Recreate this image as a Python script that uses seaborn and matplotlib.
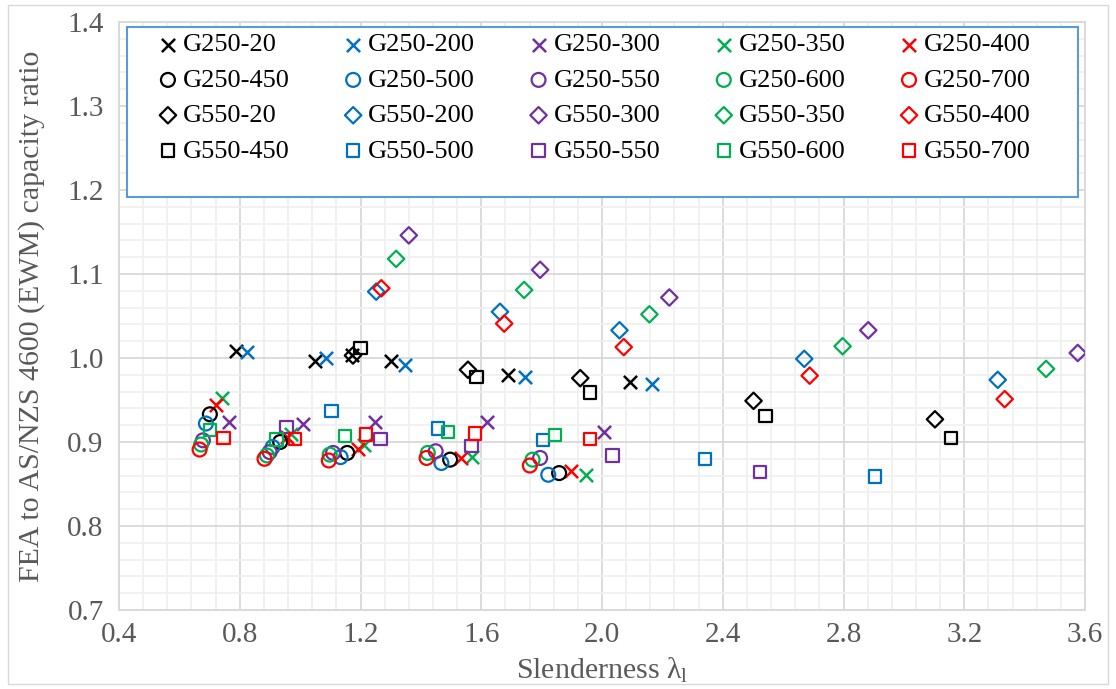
import matplotlib
matplotlib.use("Agg")
import matplotlib.pyplot as plt
import seaborn as sns
import pandas as pd
from matplotlib.ticker import MultipleLocator, FormatStrFormatter
from matplotlib.patches import Rectangle

# ---------------- data ----------------
x_G250_20 = [0.788, 1.048, 1.172, 1.300, 1.687, 2.093]
y_G250_20 = [1.008, 0.996, 1.003, 0.996, 0.980, 0.971]
x_G250_200 = [0.824, 1.086, 1.346, 1.744, 2.165]
y_G250_200 = [1.007, 1.000, 0.992, 0.977, 0.969]
x_G250_300 = [0.766, 1.010, 1.248, 1.618, 2.008]
y_G250_300 = [0.924, 0.922, 0.924, 0.924, 0.912]
x_G250_350 = [0.740, 0.971, 1.211, 1.571, 1.947]
y_G250_350 = [0.952, 0.910, 0.896, 0.882, 0.861]
x_G250_400 = [0.721, 0.955, 1.191, 1.532, 1.897]
y_G250_400 = [0.944, 0.906, 0.892, 0.881, 0.865]
x_G250_450 = [0.701, 0.934, 1.156, 1.497, 1.858]
y_G250_450 = [0.933, 0.900, 0.887, 0.879, 0.863]
x_G250_500 = [0.688, 0.909, 1.134, 1.468, 1.822]
y_G250_500 = [0.922, 0.894, 0.882, 0.875, 0.861]
x_G250_550 = [0.678, 0.899, 1.109, 1.449, 1.795]
y_G250_550 = [0.902, 0.888, 0.887, 0.889, 0.881]
x_G250_600 = [0.672, 0.890, 1.098, 1.423, 1.770]
y_G250_600 = [0.897, 0.884, 0.885, 0.887, 0.879]
x_G250_700 = [0.667, 0.882, 1.095, 1.419, 1.761]
y_G250_700 = [0.891, 0.880, 0.878, 0.881, 0.872]

x_G550_20 = [1.175, 1.556, 1.928, 2.502, 3.103]
y_G550_20 = [1.003, 0.986, 0.976, 0.949, 0.927]
x_G550_200 = [1.252, 1.662, 2.058, 2.670, 3.311]
y_G550_200 = [1.079, 1.055, 1.033, 0.999, 0.974]
x_G550_300 = [1.360, 1.795, 2.223, 2.882, 3.576]
y_G550_300 = [1.146, 1.105, 1.072, 1.033, 1.006]
x_G550_350 = [1.318, 1.742, 2.157, 2.797, 3.471]
y_G550_350 = [1.118, 1.081, 1.052, 1.014, 0.987]
x_G550_400 = [1.269, 1.676, 2.072, 2.688, 3.334]
y_G550_400 = [1.083, 1.041, 1.013, 0.979, 0.951]
x_G550_450 = [1.200, 1.584, 1.961, 2.542, 3.155]
y_G550_450 = [1.012, 0.977, 0.959, 0.931, 0.905]
x_G550_500 = [1.104, 1.457, 1.805, 2.340, 2.904]
y_G550_500 = [0.937, 0.916, 0.902, 0.880, 0.859]
x_G550_550 = [0.955, 1.266, 1.568, 2.035, 2.524]
y_G550_550 = [0.918, 0.904, 0.895, 0.884, 0.864]
x_G550_600 = [0.702, 0.922, 1.148, 1.490, 1.845]
y_G550_600 = [0.914, 0.903, 0.907, 0.912, 0.908]
x_G550_700 = [0.746, 0.984, 1.219, 1.579, 1.961]
y_G550_700 = [0.905, 0.904, 0.909, 0.910, 0.904]

series_names = ["G250-20", "G250-200", "G250-300", "G250-350", "G250-400",
                "G250-450", "G250-500", "G250-550", "G250-600", "G250-700",
                "G550-20", "G550-200", "G550-300", "G550-350", "G550-400",
                "G550-450", "G550-500", "G550-550", "G550-600", "G550-700"]
series_x = [x_G250_20, x_G250_200, x_G250_300, x_G250_350, x_G250_400,
            x_G250_450, x_G250_500, x_G250_550, x_G250_600, x_G250_700,
            x_G550_20, x_G550_200, x_G550_300, x_G550_350, x_G550_400,
            x_G550_450, x_G550_500, x_G550_550, x_G550_600, x_G550_700]
series_y = [y_G250_20, y_G250_200, y_G250_300, y_G250_350, y_G250_400,
            y_G250_450, y_G250_500, y_G250_550, y_G250_600, y_G250_700,
            y_G550_20, y_G550_200, y_G550_300, y_G550_350, y_G550_400,
            y_G550_450, y_G550_500, y_G550_550, y_G550_600, y_G550_700]

x_ticks = [0.4, 0.8, 1.2, 1.6, 2.0, 2.4, 2.8, 3.2, 3.6]
y_ticks = [0.7, 0.8, 0.9, 1.0, 1.1, 1.2, 1.3, 1.4]

colors = ["#000000", "#0070C0", "#7030A0", "#00B050", "#FF0000"]
group_markers = ["x", "o", "D", "s"]
group_sizes = [90, 100, 70, 78]

# ---------------- style ----------------
sns.set_theme(style="white")
plt.rcParams['font.family'] = ['Liberation Serif', 'DejaVu Serif']
plt.rcParams['mathtext.fontset'] = 'custom'
plt.rcParams['mathtext.rm'] = 'Liberation Serif'
plt.rcParams['mathtext.it'] = 'Liberation Serif:italic'

text_col = "#595959"
fig = plt.figure(figsize=(11.16, 6.89), dpi=100)
ax = fig.add_axes([119 / 1116, 1 - 610 / 689, 966 / 1116, 588 / 689])

for i, name in enumerate(series_names):
    grp = i // 5
    col = colors[i % 5]
    df = pd.DataFrame({"x": series_x[i], "y": series_y[i]})
    m = group_markers[grp]
    if m == "x":
        sns.scatterplot(data=df, x="x", y="y", ax=ax, marker=m, color=col,
                        edgecolor=None, s=group_sizes[grp], linewidth=1.8,
                        label=name, zorder=4)
    else:
        sns.scatterplot(data=df, x="x", y="y", ax=ax, marker=m, color=col,
                        facecolor="none", edgecolor=col, s=group_sizes[grp],
                        linewidth=1.6, label=name, zorder=4)

ax.set_xlim(0.4, 3.6)
ax.set_ylim(0.7, 1.4)
ax.set_xticks(x_ticks)
ax.set_yticks(y_ticks)
ax.xaxis.set_major_formatter(FormatStrFormatter("%.1f"))
ax.yaxis.set_major_formatter(FormatStrFormatter("%.1f"))
ax.xaxis.set_minor_locator(MultipleLocator(0.08))
ax.yaxis.set_minor_locator(MultipleLocator(0.02))
ax.set_axisbelow(True)
ax.grid(which="minor", color="#f0f0f0", linewidth=1.3)
ax.grid(which="major", color="#d9d9d9", linewidth=1.3)
ax.tick_params(which="both", length=0)
ax.tick_params(axis="both", labelsize=21, labelcolor=text_col)
ax.tick_params(axis="x", pad=9)
ax.tick_params(axis="y", pad=11)
for sp in ax.spines.values():
    sp.set_color("#d9d9d9")
    sp.set_linewidth(1.3)

ax.set_xlabel(r"Slenderness λ$_\mathrm{l}$", fontsize=21.5, color=text_col)
ax.set_ylabel("FEA to AS/NZS 4600 (EWM) capacity ratio", fontsize=21.5, color=text_col)
ax.xaxis.set_label_coords(0.5, -0.078)
ax.yaxis.set_label_coords(-0.0766, 0.5)

# legend box
ax.add_patch(Rectangle((8 / 966, 1 - 175 / 588), 951 / 966, 170 / 588,
                       transform=ax.transAxes, facecolor="white",
                       edgecolor="#5B9BD5", linewidth=1.5, zorder=3))
handles, labels = ax.get_legend_handles_labels()
order = [r * 5 + c for c in range(5) for r in range(4)]
leg = ax.legend([handles[k] for k in order], [labels[k] for k in order],
                ncol=5, loc="upper left", bbox_to_anchor=(41 / 966, 1 - 11 / 588),
                frameon=False, fontsize=19, handletextpad=0.27,
                handlelength=0.6, labelspacing=0.45, borderaxespad=0, borderpad=0,
                columnspacing=2.1, scatterpoints=1)
for t in leg.get_texts():
    t.set_color("#000000")
leg.set_zorder(5)

# outer chart border
fig.patches.append(Rectangle((8 / 1116, 5 / 689), 1100 / 1116, 679 / 689,
                             transform=fig.transFigure, facecolor="none",
                             edgecolor="#d9d9d9", linewidth=1.0))

fig.savefig("out.png", dpi=100)
